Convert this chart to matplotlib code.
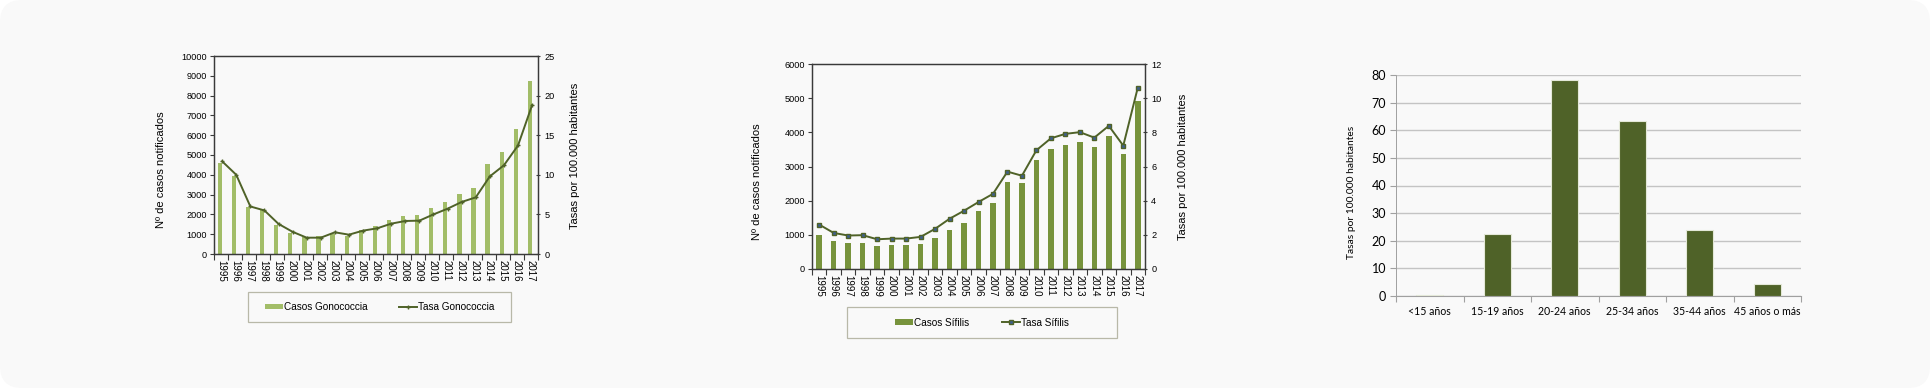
import numpy as np
import matplotlib
matplotlib.use("Agg")
import matplotlib.pyplot as plt
from matplotlib.patches import FancyBboxPatch, Rectangle, Patch
from matplotlib.lines import Line2D

# ---------------- data ----------------
years = [str(y) for y in range(1995, 2018)]

casos_gono = [4580, 3920, 2360, 2260, 1450, 1060, 860, 910, 1030, 930, 1200, 1410,
              1700, 1900, 1970, 2310, 2630, 3050, 3320, 4560, 5170, 6330, 8720]
tasa_gono = [11.7, 10.0, 6.0, 5.5, 3.8, 2.8, 2.06, 2.06, 2.74, 2.44, 2.95, 3.24,
             3.83, 4.17, 4.21, 5.0, 5.72, 6.57, 7.15, 9.8, 11.2, 13.7, 18.8]

casos_sif = [1000, 830, 760, 770, 675, 705, 705, 730, 920, 1155, 1350, 1700,
             1940, 2545, 2505, 3190, 3520, 3630, 3720, 3560, 3880, 3355, 4930]
tasa_sif = [2.6, 2.11, 1.96, 1.98, 1.74, 1.78, 1.78, 1.88, 2.35, 2.94, 3.41, 3.92,
            4.40, 5.70, 5.46, 6.95, 7.65, 7.91, 8.01, 7.69, 8.38, 7.22, 10.61]

edad_cats = ["<15 años", "15-19 años", "20-24 años", "25-34 años", "35-44 años", "45 años o más"]
edad_tasas = [0.4, 22.6, 78.2, 63.5, 23.8, 4.2]

# ---------------- figure ----------------
W, H = 1930, 388
fig = plt.figure(figsize=(W / 100, H / 100), dpi=100, facecolor="white")
fig.patches.append(FancyBboxPatch((0, 0), W, H, boxstyle="round,pad=0,rounding_size=22",
                                  transform=None, facecolor="#f9f9f9", edgecolor="none", zorder=-10))

def rect(l, r, t, b):
    return [l / W, 1 - b / H, (r - l) / W, (b - t) / H]

ARIAL = ["Liberation Sans", "DejaVu Sans"]
CAL = ["Lato", "DejaVu Sans"]
SPINE = "#3a3a3a"
TICK_FS = 6.6
LAB_FS = 8

def year_panel(box, casos, tasa, ymax_l, ystep_l, ymax_r, ystep_r, bar_color, bar_w, bar_off,
               line_kw, ylab_x, ylab_y, rlab_x, rlab_y, leg_box, leg_labels):
    ax = fig.add_axes(rect(*box))
    ax.set_facecolor("none")
    x = np.arange(len(years))
    ax.bar(x + bar_off, casos, width=bar_w, color=bar_color, zorder=2)
    ax.set_xlim(-0.5, len(years) - 0.5)
    ax.set_ylim(0, ymax_l)
    ax.set_yticks(np.arange(0, ymax_l + 1, ystep_l))
    ax.tick_params(axis="y", labelsize=TICK_FS, length=3, width=0.8, color=SPINE, pad=2)
    for lab in ax.get_yticklabels():
        lab.set_fontfamily(ARIAL)
    ax.set_xticks(np.arange(-0.5, len(years)), minor=False)
    ax.set_xticklabels([])
    ax.set_xticks(x, minor=True)
    ax.set_xticklabels(years, minor=True, rotation=-90, fontsize=TICK_FS + 0.4, fontfamily=ARIAL)
    ax.tick_params(axis="x", which="major", length=4, width=0.8, color=SPINE)
    ax.tick_params(axis="x", which="minor", length=0, pad=4)
    for s in ax.spines.values():
        s.set_color(SPINE)
        s.set_linewidth(0.9)
    ax2 = ax.twinx()
    ax2.plot(x + line_kw.pop("off"), tasa, zorder=3, **line_kw)
    ax2.set_ylim(0, ymax_r)
    ax2.set_yticks(np.arange(0, ymax_r + 0.01, ystep_r))
    ax2.tick_params(axis="y", labelsize=TICK_FS, length=3, width=0.8, color=SPINE, direction="inout", pad=3)
    for lab in ax2.get_yticklabels():
        lab.set_fontfamily(ARIAL)
    for s in ax2.spines.values():
        s.set_color(SPINE)
        s.set_linewidth(0.9)
    fig.text(ylab_x / W, 1 - ylab_y / H, "Nº de casos notificados", rotation=90, fontsize=LAB_FS,
             fontfamily=ARIAL, ha="center", va="center")
    fig.text(rlab_x / W, 1 - rlab_y / H, "Tasas por 100.000 habitantes", rotation=90, fontsize=LAB_FS,
             fontfamily=ARIAL, ha="center", va="center")
    l, r, t, b = leg_box
    fig.patches.append(Rectangle((l / W, 1 - b / H), (r - l) / W, (b - t) / H, transform=fig.transFigure,
                                 facecolor="none", edgecolor="#b8b8a8", linewidth=0.9))
    handles = [Patch(facecolor=bar_color, edgecolor="none"),
               Line2D([0], [0], color=line_kw["color"], lw=line_kw["lw"], marker=line_kw["marker"],
                      markersize=line_kw["markersize"], markerfacecolor=line_kw["markerfacecolor"],
                      markeredgecolor=line_kw["markeredgecolor"])]
    fig.legend(handles, leg_labels, loc="center", bbox_to_anchor=((l + r) / 2 / W, 1 - (t + b) / 2 / H),
               ncol=2, frameon=False, prop={"family": ARIAL, "size": 7.2}, handlelength=1.8,
               handleheight=0.45, handletextpad=0.1, columnspacing=3.2)
    return ax, ax2

year_panel((214, 538, 56, 254), casos_gono, tasa_gono, 10000, 1000, 25, 5, "#a2bd68", 0.3, -0.08,
           dict(off=0.08, color="#4f6228", lw=1.4, marker="+", markersize=3,
                markerfacecolor="#4f6228", markeredgecolor="#4f6228"),
           161, 170, 575, 156, (248, 511, 292, 322), ["Casos Gonococcia", "Tasa Gonococcia"])

year_panel((812, 1145, 64, 269), casos_sif, tasa_sif, 6000, 1000, 12, 2, "#77933c", 0.38, 0.0,
           dict(off=0.0, color="#4f6228", lw=1.4, marker="s", markersize=2.8,
                markerfacecolor="#3f5f8f", markeredgecolor="#4f6228"),
           757, 182, 1183, 167, (847, 1117, 307, 338), ["Casos Sífilis", "Tasa Sífilis"])

# ---------------- panel 3 ----------------
ax3 = fig.add_axes(rect(1396, 1801, 75, 296))
ax3.set_facecolor("none")
xc = np.arange(len(edad_cats))
ax3.bar(xc, edad_tasas, width=0.4, color="#4f6228", edgecolor="#e4e8d8", linewidth=0.8, zorder=3)
ax3.set_xlim(-0.5, len(edad_cats) - 0.5)
ax3.set_ylim(0, 80)
ax3.set_yticks(np.arange(0, 81, 10))
ax3.yaxis.grid(True, color="#c4c4c4", linewidth=1.0, zorder=0)
ax3.set_axisbelow(True)
ax3.tick_params(axis="y", labelsize=9, length=4, width=0.8, color="#a0a0a0", pad=3)
for lab in ax3.get_yticklabels():
    lab.set_fontfamily(CAL)
ax3.set_xticks(np.arange(-0.5, len(edad_cats)), minor=False)
ax3.set_xticklabels([])
ax3.set_xticks(xc, minor=True)
ax3.set_xticklabels(edad_cats, minor=True, fontsize=7.6, fontfamily=CAL)
ax3.tick_params(axis="x", which="major", length=4, width=0.8, color="#a0a0a0")
ax3.tick_params(axis="x", which="minor", length=0, pad=7)
ax3.spines["top"].set_visible(False)
ax3.spines["right"].set_visible(False)
ax3.spines["bottom"].set_color("#a0a0a0")
ax3.spines["left"].set_color("#a0a0a0")
ax3.spines["left"].set_linestyle((0, (1, 1)))
ax3.spines["left"].set_linewidth(0.7)
fig.text(1351 / W, 1 - 192 / H, "Tasas por 100.000 habitantes", rotation=90, fontsize=7.4,
         fontfamily=CAL, ha="center", va="center")

fig.savefig("out.png", dpi=100, facecolor="white")
